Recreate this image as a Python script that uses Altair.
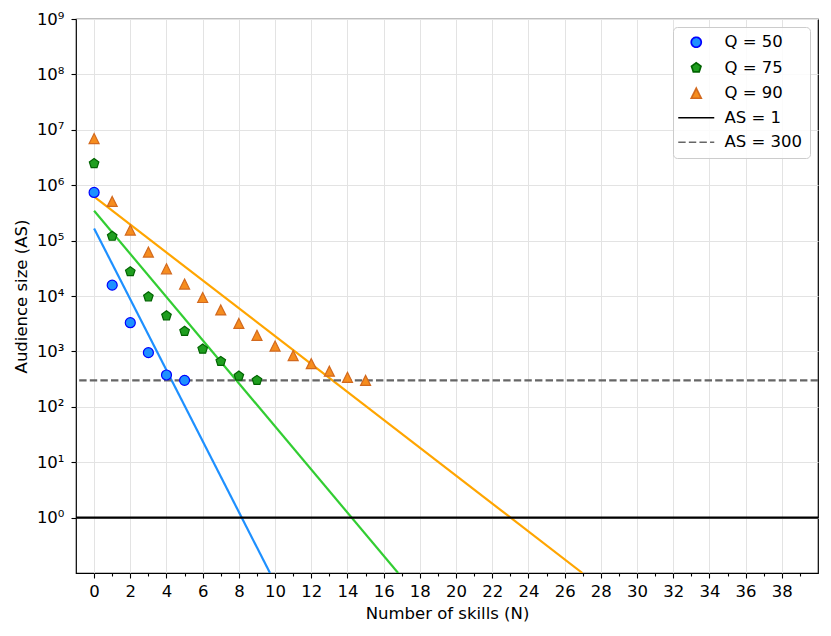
import altair as alt
import pandas as pd

# ---- data ----
series_names = ["Q = 50", "Q = 75", "Q = 90", "AS = 1", "AS = 300"]

n_q50 = [0, 1, 2, 3, 4, 5]
as_q50 = [7.4e5, 1.57e4, 3.3e3, 950, 375, 300]

n_q75 = [0, 1, 2, 3, 4, 5, 6, 7, 8, 9]
as_q75 = [2.46e6, 1.2e5, 2.75e4, 9.7e3, 4.4e3, 2.3e3, 1.1e3, 660, 360, 300]

n_q90 = [0, 1, 2, 3, 4, 5, 6, 7, 8, 9, 10, 11, 12, 13, 14, 15]
as_q90 = [6.95e6, 5.1e5, 1.55e5, 6.2e4, 3.1e4, 1.64e4, 9.4e3, 5.6e3, 3.2e3,
          1.95e3, 1.25e3, 840, 600, 440, 340, 300]

# fitted lines: (N, AS) at start and at the bottom edge of the plot
fit_names = ["fit50", "fit75", "fit90"]
fit_start_n = [0, 0, 0]
fit_start_as = [1.66e5, 3.45e5, 6.2e5]
fit_end_n = [9.72, 16.8, 26.98]
fit_end_as = [0.1, 0.1, 0.1]

ref_names = ["AS = 1", "AS = 300"]
ref_values = [1, 300]

x_tick_values = list(range(0, 40))
y_tick_values = [1, 10, 100, 1e3, 1e4, 1e5, 1e6, 1e7, 1e8, 1e9]

# ---- tables ----
pts = pd.concat([
    pd.DataFrame({"N": n_q50, "AS": as_q50, "series": "Q = 50"}),
    pd.DataFrame({"N": n_q75, "AS": as_q75, "series": "Q = 75"}),
    pd.DataFrame({"N": n_q90, "AS": as_q90, "series": "Q = 90"}),
], ignore_index=True)

fits = pd.DataFrame({
    "N": fit_start_n + fit_end_n,
    "AS": fit_start_as + fit_end_as,
    "fit": fit_names + fit_names,
})

refs = pd.DataFrame({"AS": ref_values, "series": ref_names})

FONT = "DejaVu Sans"
FS = 16.5

fill_range = ["#1e90ff", "#1f9e1f", "#f68d1e", "black", "#666666"]
stroke_range = ["#0000ff", "#006400", "#d2691e", "black", "#666666"]
pent = "M0,-1L0.951,-0.309L0.588,0.809L-0.588,0.809L-0.951,-0.309Z"
tri = "M0,-1L1,1L-1,1Z"
line_path = "M-3.6,0H3.6"
shape_range = ["circle", pent, tri, line_path, line_path]
dash_range = [[1, 0], [1, 0], [1, 0], [1, 0], [7.4, 3.2]]

x_enc = alt.X(
    "N:Q",
    scale=alt.Scale(domain=[-1, 40], nice=False, zero=False),
    axis=alt.Axis(
        title="Number of skills (N)",
        values=x_tick_values,
        labelExpr="datum.value % 2 === 0 ? datum.label : ''",
        labelOverlap=False,
        labelFlush=False,
        tickSize={"condition": {"test": "datum.value % 2 === 0", "value": 5}, "value": 3},
        gridOpacity={"condition": {"test": "datum.value % 2 === 0", "value": 1}, "value": 0},
        labelPadding=5,
        titlePadding=6,
    ),
)
y_scale = alt.Scale(type="log", domain=[0.1, 1e9], nice=False)
y_axis = alt.Axis(
    title="Audience size (AS)",
    values=y_tick_values,
    labelExpr='"10" + ["⁰","¹","²","³","⁴","⁵","⁶","⁷","⁸","⁹"][round(log(datum.value)/LN10)]',
    labelOverlap=False,
    tickSize=5,
    labelPadding=7,
    titlePadding=7,
)

leg = alt.Legend(title=None, orient="none", legendX=597, legendY=8)

fit_layer = alt.Chart(fits).mark_line(strokeWidth=2.2, clip=True).encode(
    x=x_enc,
    y=alt.Y("AS:Q", scale=y_scale, axis=y_axis),
    color=alt.Color("fit:N", scale=alt.Scale(domain=fit_names,
                                             range=["#1e90ff", "#32cd32", "#ffa500"]),
                    legend=None),
    detail="fit:N",
)

ref_layer = alt.Chart(refs).mark_rule(strokeWidth=2.2).encode(
    y=alt.Y("AS:Q", scale=y_scale),
    stroke=alt.Stroke("series:N", scale=alt.Scale(domain=series_names, range=stroke_range),
                      legend=leg),
    strokeDash=alt.StrokeDash("series:N", scale=alt.Scale(domain=series_names, range=dash_range),
                              legend=leg),
)

pt_layer = alt.Chart(pts).mark_point(filled=True, opacity=1, size=100, strokeWidth=1.2).encode(
    x=x_enc,
    y=alt.Y("AS:Q", scale=y_scale),
    fill=alt.Fill("series:N", scale=alt.Scale(domain=series_names, range=fill_range), legend=leg),
    stroke=alt.Stroke("series:N", scale=alt.Scale(domain=series_names, range=stroke_range),
                      legend=leg),
    shape=alt.Shape("series:N", scale=alt.Scale(domain=series_names, range=shape_range),
                    legend=leg),
)

chart = alt.layer(fit_layer, ref_layer, pt_layer).properties(
    width=742,
    height=554,
    autosize=alt.AutoSizeParams(type="none"),
    padding={"left": 68, "top": 11, "right": 5, "bottom": 60},
).configure_view(
    stroke="black", strokeWidth=1.2
).configure_axis(
    labelFont=FONT, labelFontSize=FS, labelColor="black",
    titleFont=FONT, titleFontSize=FS, titleFontWeight="normal", titleColor="black",
    domain=False, tickColor="black", tickWidth=1.1,
    gridColor="#e3e3e3", gridWidth=1,
).configure_legend(
    labelFont=FONT, labelFontSize=FS, labelColor="black",
    padding=7, symbolSize=100, symbolOffset=8, labelOffset=20,
    rowPadding=7.5, symbolStrokeWidth=1.7,
    strokeColor="#cccccc", cornerRadius=4, fillColor="rgba(255,255,255,0.85)",
)

chart.save("out.html", embed_options={"renderer": "svg", "actions": False})
